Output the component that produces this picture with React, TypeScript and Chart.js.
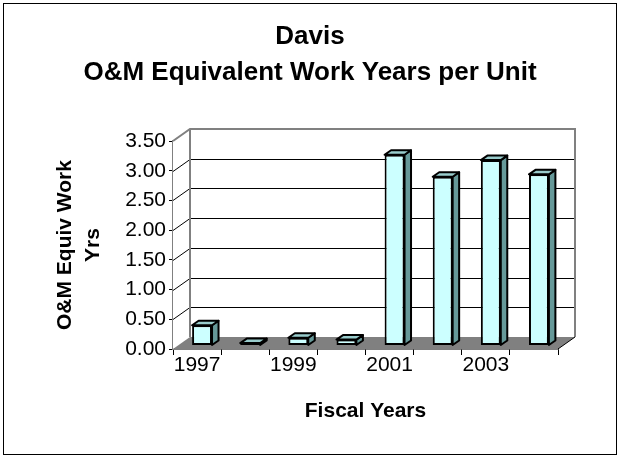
import React, { useEffect, useRef } from 'react';
import { Chart, registerables } from 'chart.js';

Chart.register(...registerables);

const categories = ['1997', '1998', '1999', '2000', '2001', '2002', '2003', '2004'];
const workYears = [0.34, 0.04, 0.13, 0.1, 3.21, 2.84, 3.12, 2.88];
const yTicks = [0, 0.5, 1, 1.5, 2, 2.5, 3, 3.5];
const titleLines = ['Davis', 'O&M Equivalent Work Years per Unit'];
const yTitleLines = ['O&M Equiv Work', 'Yrs'];
const xTitle = 'Fiscal Years';

const FONT = "'Liberation Sans', Arial, sans-serif";
const DX = 17;
const DY = -12;
const SHIFT_X = 5;
const SHIFT_Y = -3.5;
const BDX = 6.5;
const BDY = -4.5;

const threeD = {
  id: 'threeD',
  beforeDraw(chart: any) {
    const ctx = chart.ctx;
    ctx.save();
    ctx.fillStyle = '#ffffff';
    ctx.fillRect(0, 0, chart.width, chart.height);
    ctx.strokeStyle = '#000000';
    ctx.lineWidth = 1;
    ctx.strokeRect(3.5, 3.5, chart.width - 7, chart.height - 7);
    ctx.restore();
  },
  beforeDatasetsDraw(chart: any) {
    const ctx = chart.ctx;
    const { left, right, top, bottom } = chart.chartArea;
    const y = chart.scales.y;
    ctx.save();
    ctx.fillStyle = '#ffffff';
    ctx.beginPath();
    ctx.moveTo(left, bottom);
    ctx.lineTo(left, top);
    ctx.lineTo(left + DX, top + DY);
    ctx.lineTo(left + DX, bottom + DY);
    ctx.closePath();
    ctx.fill();
    ctx.fillRect(left + DX, top + DY, right - left, bottom - top);
    ctx.strokeStyle = '#000000';
    ctx.lineWidth = 1;
    yTicks.forEach((v) => {
      if (v === yTicks[0] || v === yTicks[yTicks.length - 1]) return;
      const py = Math.round(y.getPixelForValue(v)) + 0.5;
      ctx.beginPath();
      ctx.moveTo(left + DX, py + DY);
      ctx.lineTo(right + DX, py + DY);
      ctx.stroke();
      ctx.beginPath();
      ctx.moveTo(left, py);
      ctx.lineTo(left + DX, py + DY);
      ctx.stroke();
    });
    ctx.strokeStyle = '#808080';
    ctx.lineWidth = 2;
    ctx.beginPath();
    ctx.moveTo(left, top);
    ctx.lineTo(left + DX, top + DY);
    ctx.lineTo(right + DX, top + DY);
    ctx.lineTo(right + DX, bottom + DY);
    ctx.stroke();
    ctx.beginPath();
    ctx.moveTo(left + DX, top + DY);
    ctx.lineTo(left + DX, bottom + DY);
    ctx.stroke();
    ctx.fillStyle = '#808080';
    ctx.beginPath();
    ctx.moveTo(left, bottom);
    ctx.lineTo(right, bottom);
    ctx.lineTo(right + DX, bottom + DY);
    ctx.lineTo(left + DX, bottom + DY);
    ctx.closePath();
    ctx.fill();
    ctx.strokeStyle = '#000000';
    ctx.lineWidth = 1;
    ctx.beginPath();
    ctx.moveTo(right, bottom);
    ctx.lineTo(right + DX, bottom + DY);
    ctx.stroke();
    ctx.restore();
    ctx.save();
    ctx.translate(SHIFT_X, SHIFT_Y);
  },
  afterDatasetsDraw(chart: any) {
    const ctx = chart.ctx;
    const meta = chart.getDatasetMeta(0);
    ctx.lineWidth = 2;
    ctx.lineJoin = 'round';
    ctx.strokeStyle = '#000000';
    meta.data.forEach((bar: any) => {
      const { x, y, base, width } = bar.getProps(['x', 'y', 'base', 'width'], true);
      const l = x - width / 2;
      const r = x + width / 2;
      ctx.fillStyle = '#669999';
      ctx.beginPath();
      ctx.moveTo(r, y);
      ctx.lineTo(r + BDX, y + BDY);
      ctx.lineTo(r + BDX, base + BDY);
      ctx.lineTo(r, base);
      ctx.closePath();
      ctx.fill();
      ctx.stroke();
      ctx.fillStyle = '#99cccc';
      ctx.beginPath();
      ctx.moveTo(l, y);
      ctx.lineTo(l + BDX, y + BDY);
      ctx.lineTo(r + BDX, y + BDY);
      ctx.lineTo(r, y);
      ctx.closePath();
      ctx.fill();
      ctx.stroke();
    });
    ctx.restore();
  },
};

export default function App() {
  const ref = useRef<HTMLCanvasElement | null>(null);
  useEffect(() => {
    if (!ref.current) return;
    const chart = new Chart(ref.current, {
      type: 'bar',
      data: {
        labels: categories,
        datasets: [
          {
            data: workYears,
            backgroundColor: '#ccffff',
            borderColor: '#000000',
            borderWidth: 2,
            borderSkipped: false,
            barPercentage: 0.414,
            categoryPercentage: 1,
          },
        ],
      },
      options: {
        animation: false,
        responsive: false,
        layout: { padding: { top: 0, left: 0, right: 0, bottom: 0 } },
        plugins: {
          legend: { display: false },
          tooltip: { enabled: false },
          title: {
            display: true,
            text: titleLines,
            color: '#000000',
            font: { family: FONT, size: 26, weight: 'bold', lineHeight: 1.385 },
            padding: { top: 19, bottom: 50 },
          },
        },
        scales: {
          x: {
            offset: true,
            afterFit: (s: any) => {
              s.height = 109;
            },
            grid: { display: true, offset: true, drawOnChartArea: false, drawTicks: true, tickLength: 6, color: '#000000' },
            border: { display: true, color: '#000000', width: 1.5 },
            ticks: {
              color: '#000000',
              font: { family: FONT, size: 21 },
              padding: -2,
              autoSkip: false,
              maxRotation: 0,
              callback: (_v: any, i: number) => (i % 2 === 0 ? categories[i] : ''),
            },
            title: {
              display: true,
              text: xTitle,
              color: '#000000',
              font: { family: FONT, size: 21, weight: 'bold', lineHeight: 1.2 },
              padding: { top: 0, bottom: 34 },
            },
          },
          y: {
            min: 0,
            max: 3.5,
            afterFit: (s: any) => {
              s.width = 173;
            },
            afterBuildTicks: (s: any) => {
              s.ticks = yTicks.map((v) => ({ value: v }));
            },
            grid: { display: true, drawOnChartArea: false, drawTicks: true, tickLength: 4, color: '#000000' },
            border: { display: true, color: '#808080', width: 2 },
            ticks: {
              color: '#000000',
              font: { family: FONT, size: 21 },
              padding: 3,
              callback: (v: any) => Number(v).toFixed(2),
            },
            title: {
              display: true,
              text: yTitleLines,
              color: '#000000',
              font: { family: FONT, size: 21, weight: 'bold', lineHeight: 1.35 },
              padding: { top: 51, bottom: 0 },
            },
          },
          yRight: {
            type: 'linear',
            position: 'right',
            display: true,
            afterFit: (s: any) => {
              s.width = 62;
            },
            grid: { display: false },
            border: { display: false },
            ticks: { display: false },
          },
        },
      },
      plugins: [threeD],
    } as any);
    return () => chart.destroy();
  }, []);
  return (
    <div style={{ position: 'fixed', left: 0, top: 0, width: 620, height: 458 }}>
      <canvas ref={ref} width={620} height={458} style={{ display: 'block' }} />
    </div>
  );
}
